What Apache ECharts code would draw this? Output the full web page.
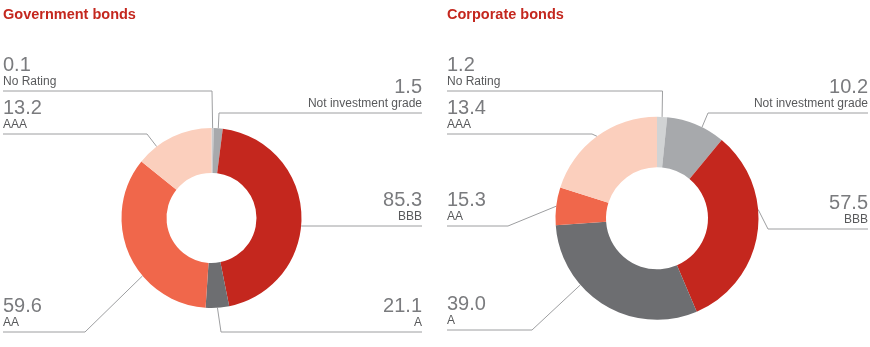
<!DOCTYPE html>
<html>
<head>
<meta charset="utf-8">
<script src="https://cdn.jsdelivr.net/npm/echarts@6/dist/echarts.min.js"></script>
<style>
html,body{margin:0;padding:0;background:#fff;}
#chart{width:870px;height:347px;}
</style>
</head>
<body>
<div id="chart"></div>
<script>
// Categories (clockwise from 12 o'clock)
const categories = ['No Rating', 'Not investment grade', 'BBB', 'A', 'AA', 'AAA'];
// Slice sizes as drawn (share of the ring, %)
const govShares = [0.4, 1.6, 44.8, 4.2, 34.7, 14.2];
const corpShares = [1.6, 9.4, 32.6, 30.3, 6.0, 20.1];
// Values printed in the labels
const govValues = [0.1, 1.5, 85.3, 21.1, 59.6, 13.2];
const corpValues = [1.2, 10.2, 57.5, 39.0, 15.3, 13.4];
const titles = ['Government bonds', 'Corporate bonds'];

const govColors = ['#c9cacc', '#a7a9ac', '#c4271e', '#6d6e71', '#f0674b', '#fbcfbd'];
const corpColors = ['#d1d3d4', '#a7a9ac', '#c4271e', '#6d6e71', '#f0674b', '#fbcfbd'];

const FONT = "'Liberation Sans', Arial, sans-serif";

// label layout per category: side, leader-line y, elbow point, optional attach angle (deg clockwise from top)
const govLayout = {
  leftX: 3, rightX: 422, center: [211.5, 218], radius: [45, 90],
  items: [
    {side: 'left',  lineY: 91,  elbow: [212, 91]},
    {side: 'right', lineY: 113, elbow: [219, 113]},
    {side: 'right', lineY: 226, elbow: [303, 226], angle: 95.1},
    {side: 'right', lineY: 332, elbow: [221, 332]},
    {side: 'left',  lineY: 332, elbow: [85, 332], angle: 230},
    {side: 'left',  lineY: 134, elbow: [147, 134], angle: 322.5}
  ]
};
const corpLayout = {
  leftX: 447, rightX: 868, center: [657, 218.3], radius: [51, 101.5],
  items: [
    {side: 'left',  lineY: 91,  elbow: [662.5, 91]},
    {side: 'right', lineY: 113, elbow: [708, 113], angle: 26.3},
    {side: 'right', lineY: 229, elbow: [768, 229], angle: 85},
    {side: 'left',  lineY: 330, elbow: [532, 330], angle: 229},
    {side: 'left',  lineY: 226, elbow: [508, 226]},
    {side: 'left',  lineY: 134, elbow: [592, 134]}
  ]
};

function makeSeries(shares, values, colors, layout) {
  return {
    type: 'pie',
    center: layout.center,
    radius: layout.radius,
    startAngle: 90,
    clockwise: true,
    avoidLabelOverlap: false,
    silent: true,
    data: categories.map((c, i) => ({
      name: c,
      value: shares[i],
      itemStyle: {color: colors[i]}
    })),
    label: {
      show: true,
      position: 'outside',
      formatter: p => '{v|' + values[p.dataIndex].toFixed(1) + '}\n{n|' + p.name + '}',
      rich: {
        v: {fontFamily: FONT, fontSize: 20, lineHeight: 19, color: '#7a7b7e'},
        n: {fontFamily: FONT, fontSize: 12, lineHeight: 13, color: '#58595b'}
      }
    },
    labelLine: {show: true, length: 10, length2: 10, lineStyle: {color: '#9d9ea0', width: 1}},
    labelLayout: function (params) {
      const it = layout.items[params.dataIndex];
      let start = params.labelLinePoints[0];
      if (it.angle !== undefined) {
        const a = it.angle * Math.PI / 180, r = layout.radius[1];
        start = [layout.center[0] + r * Math.sin(a), layout.center[1] - r * Math.cos(a)];
      }
      const left = it.side === 'left';
      const endX = left ? layout.leftX : layout.rightX;
      return {
        x: endX,
        y: it.lineY - 3,
        align: left ? 'left' : 'right',
        verticalAlign: 'bottom',
        labelLinePoints: [start, it.elbow, [endX, it.lineY]]
      };
    }
  };
}

const chart = echarts.init(document.getElementById('chart'), null, {renderer: 'canvas'});
const titleStyle = {fontFamily: FONT, fontSize: 14.5, fontWeight: 'bold', color: '#c4271e'};
chart.setOption({
  animation: false,
  title: [
    {text: titles[0], left: 3, top: 7, padding: 0, textStyle: titleStyle},
    {text: titles[1], left: 447, top: 7, padding: 0, textStyle: titleStyle}
  ],
  series: [
    makeSeries(govShares, govValues, govColors, govLayout),
    makeSeries(corpShares, corpValues, corpColors, corpLayout)
  ]
});
</script>
</body>
</html>
